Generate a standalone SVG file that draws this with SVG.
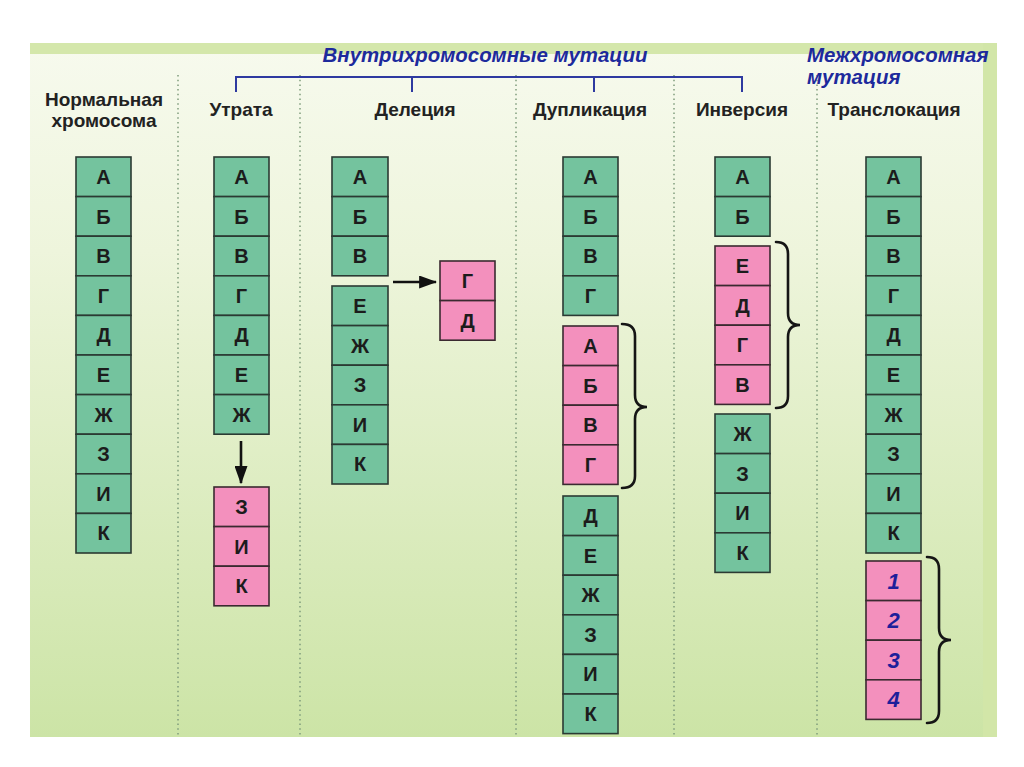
<svg xmlns="http://www.w3.org/2000/svg" width="1024" height="767" viewBox="0 0 1024 767">
<defs>
<linearGradient id="bg" x1="0" y1="0" x2="0" y2="1">
<stop offset="0" stop-color="#f7faee"/>
<stop offset="0.3" stop-color="#eef5dc"/>
<stop offset="1" stop-color="#cce4a6"/>
</linearGradient>
<marker id="ah" viewBox="0 0 14 10" refX="13" refY="5" markerWidth="7" markerHeight="5" orient="auto" markerUnits="strokeWidth">
<path d="M0,0 L14,5 L0,10 z" fill="#111"/>
</marker>
<style>
.g{fill:#74c39e;stroke:#2b3a33;stroke-width:1.6}
.p{fill:#f390bd;stroke:#3a2a30;stroke-width:1.6}
.t{font-family:"Liberation Sans",Arial,sans-serif;font-weight:bold;font-size:20px;fill:#1c1c1c;text-anchor:middle}
.n{font-family:"Liberation Sans",Arial,sans-serif;font-weight:bold;font-style:italic;font-size:22px;fill:#1d1f9a;text-anchor:middle}
.h{font-family:"Liberation Sans",Arial,sans-serif;font-weight:bold;font-size:19px;fill:#222;text-anchor:middle}
.b{font-family:"Liberation Sans",Arial,sans-serif;font-weight:bold;font-style:italic;font-size:20.4px;fill:#1d2a9c}
.dot{stroke:#7f9c7c;stroke-width:1.5;stroke-dasharray:1.5 3.2;fill:none}
.br{fill:none;stroke:#151515;stroke-width:2.6;stroke-linecap:round}
.con{fill:none;stroke:#111;stroke-width:2.6}
</style>
</defs>
<rect x="0" y="0" width="1024" height="767" fill="#ffffff"/>
<rect x="30" y="43" width="967" height="694" fill="url(#bg)"/>
<rect x="30" y="43" width="967" height="11" fill="#d4e7ab"/>
<rect x="983" y="43" width="14" height="694" fill="#d2e6a8"/>

<g id="dividers">
<line class="dot" x1="178" y1="75" x2="178" y2="737"/>
<line class="dot" x1="300" y1="75" x2="300" y2="737"/>
<line class="dot" x1="516" y1="75" x2="516" y2="737"/>
<line class="dot" x1="674" y1="75" x2="674" y2="737"/>
<line class="dot" x1="817" y1="75" x2="817" y2="737"/>
</g>

<g id="titles">
<text class="b" x="485" y="62" text-anchor="middle">Внутрихромосомные мутации</text>
<text class="b" x="807" y="62">Межхромосомная</text>
<text class="b" x="807" y="84">мутация</text>
<path d="M236,92 V77 H742 V92 M412,77 V92 M594,77 V92" fill="none" stroke="#2e3aa0" stroke-width="2"/>
</g>

<g id="headings">
<text class="h" x="104" y="106">Нормальная</text>
<text class="h" x="104" y="127">хромосома</text>
<text class="h" x="241" y="116">Утрата</text>
<text class="h" x="415" y="116">Делеция</text>
<text class="h" x="590" y="116">Дупликация</text>
<text class="h" x="742" y="116">Инверсия</text>
<text class="h" x="894" y="116">Транслокация</text>
</g>

<g id="normal">
<rect class="g" x="76" y="157" width="55" height="39.6"/><text class="t" x="103.5" y="184">А</text>
<rect class="g" x="76" y="196.6" width="55" height="39.6"/><text class="t" x="103.5" y="223.6">Б</text>
<rect class="g" x="76" y="236.2" width="55" height="39.6"/><text class="t" x="103.5" y="263.2">В</text>
<rect class="g" x="76" y="275.8" width="55" height="39.6"/><text class="t" x="103.5" y="302.8">Г</text>
<rect class="g" x="76" y="315.4" width="55" height="39.6"/><text class="t" x="103.5" y="342.4">Д</text>
<rect class="g" x="76" y="355" width="55" height="39.6"/><text class="t" x="103.5" y="382">Е</text>
<rect class="g" x="76" y="394.6" width="55" height="39.6"/><text class="t" x="103.5" y="421.6">Ж</text>
<rect class="g" x="76" y="434.2" width="55" height="39.6"/><text class="t" x="103.5" y="461.2">З</text>
<rect class="g" x="76" y="473.8" width="55" height="39.6"/><text class="t" x="103.5" y="500.8">И</text>
<rect class="g" x="76" y="513.4" width="55" height="39.6"/><text class="t" x="103.5" y="540.4">К</text>
</g>

<g id="loss">
<rect class="g" x="214" y="157" width="55" height="39.6"/><text class="t" x="241.5" y="184">А</text>
<rect class="g" x="214" y="196.6" width="55" height="39.6"/><text class="t" x="241.5" y="223.6">Б</text>
<rect class="g" x="214" y="236.2" width="55" height="39.6"/><text class="t" x="241.5" y="263.2">В</text>
<rect class="g" x="214" y="275.8" width="55" height="39.6"/><text class="t" x="241.5" y="302.8">Г</text>
<rect class="g" x="214" y="315.4" width="55" height="39.6"/><text class="t" x="241.5" y="342.4">Д</text>
<rect class="g" x="214" y="355" width="55" height="39.6"/><text class="t" x="241.5" y="382">Е</text>
<rect class="g" x="214" y="394.6" width="55" height="39.6"/><text class="t" x="241.5" y="421.6">Ж</text>
</g>
<g id="loss-fragment">
<rect class="p" x="214" y="487" width="55" height="39.6"/><text class="t" x="241.5" y="514">З</text>
<rect class="p" x="214" y="526.6" width="55" height="39.6"/><text class="t" x="241.5" y="553.6">И</text>
<rect class="p" x="214" y="566.2" width="55" height="39.6"/><text class="t" x="241.5" y="593.2">К</text>
</g>

<g id="deletion">
<rect class="g" x="332" y="157" width="56" height="39.6"/><text class="t" x="360" y="184">А</text>
<rect class="g" x="332" y="196.6" width="56" height="39.6"/><text class="t" x="360" y="223.6">Б</text>
<rect class="g" x="332" y="236.2" width="56" height="39.6"/><text class="t" x="360" y="263.2">В</text>
<rect class="g" x="332" y="286" width="56" height="39.6"/><text class="t" x="360" y="313">Е</text>
<rect class="g" x="332" y="325.6" width="56" height="39.6"/><text class="t" x="360" y="352.6">Ж</text>
<rect class="g" x="332" y="365.2" width="56" height="39.6"/><text class="t" x="360" y="392.2">З</text>
<rect class="g" x="332" y="404.8" width="56" height="39.6"/><text class="t" x="360" y="431.8">И</text>
<rect class="g" x="332" y="444.4" width="56" height="39.6"/><text class="t" x="360" y="471.4">К</text>
</g>
<g id="deletion-fragment">
<rect class="p" x="440" y="261" width="55" height="39.6"/><text class="t" x="467.5" y="288">Г</text>
<rect class="p" x="440" y="300.6" width="55" height="39.6"/><text class="t" x="467.5" y="327.6">Д</text>
</g>

<g id="duplication">
<rect class="g" x="563" y="157" width="55" height="39.6"/><text class="t" x="590.5" y="184">А</text>
<rect class="g" x="563" y="196.6" width="55" height="39.6"/><text class="t" x="590.5" y="223.6">Б</text>
<rect class="g" x="563" y="236.2" width="55" height="39.6"/><text class="t" x="590.5" y="263.2">В</text>
<rect class="g" x="563" y="275.8" width="55" height="39.6"/><text class="t" x="590.5" y="302.8">Г</text>
<rect class="p" x="563" y="326" width="55" height="39.6"/><text class="t" x="590.5" y="353">А</text>
<rect class="p" x="563" y="365.6" width="55" height="39.6"/><text class="t" x="590.5" y="392.6">Б</text>
<rect class="p" x="563" y="405.2" width="55" height="39.6"/><text class="t" x="590.5" y="432.2">В</text>
<rect class="p" x="563" y="444.8" width="55" height="39.6"/><text class="t" x="590.5" y="471.8">Г</text>
<rect class="g" x="563" y="496" width="55" height="39.6"/><text class="t" x="590.5" y="523">Д</text>
<rect class="g" x="563" y="535.6" width="55" height="39.6"/><text class="t" x="590.5" y="562.6">Е</text>
<rect class="g" x="563" y="575.2" width="55" height="39.6"/><text class="t" x="590.5" y="602.2">Ж</text>
<rect class="g" x="563" y="614.8" width="55" height="39.6"/><text class="t" x="590.5" y="641.8">З</text>
<rect class="g" x="563" y="654.4" width="55" height="39.6"/><text class="t" x="590.5" y="681.4">И</text>
<rect class="g" x="563" y="694" width="55" height="39.6"/><text class="t" x="590.5" y="721">К</text>
</g>

<g id="inversion">
<rect class="g" x="715" y="157" width="55" height="39.6"/><text class="t" x="742.5" y="184">А</text>
<rect class="g" x="715" y="196.6" width="55" height="39.6"/><text class="t" x="742.5" y="223.6">Б</text>
<rect class="p" x="715" y="246" width="55" height="39.6"/><text class="t" x="742.5" y="273">Е</text>
<rect class="p" x="715" y="285.6" width="55" height="39.6"/><text class="t" x="742.5" y="312.6">Д</text>
<rect class="p" x="715" y="325.2" width="55" height="39.6"/><text class="t" x="742.5" y="352.2">Г</text>
<rect class="p" x="715" y="364.8" width="55" height="39.6"/><text class="t" x="742.5" y="391.8">В</text>
<rect class="g" x="715" y="414" width="55" height="39.6"/><text class="t" x="742.5" y="441">Ж</text>
<rect class="g" x="715" y="453.6" width="55" height="39.6"/><text class="t" x="742.5" y="480.6">З</text>
<rect class="g" x="715" y="493.2" width="55" height="39.6"/><text class="t" x="742.5" y="520.2">И</text>
<rect class="g" x="715" y="532.8" width="55" height="39.6"/><text class="t" x="742.5" y="559.8">К</text>
</g>

<g id="translocation">
<rect class="g" x="866" y="157" width="55" height="39.6"/><text class="t" x="893.5" y="184">А</text>
<rect class="g" x="866" y="196.6" width="55" height="39.6"/><text class="t" x="893.5" y="223.6">Б</text>
<rect class="g" x="866" y="236.2" width="55" height="39.6"/><text class="t" x="893.5" y="263.2">В</text>
<rect class="g" x="866" y="275.8" width="55" height="39.6"/><text class="t" x="893.5" y="302.8">Г</text>
<rect class="g" x="866" y="315.4" width="55" height="39.6"/><text class="t" x="893.5" y="342.4">Д</text>
<rect class="g" x="866" y="355" width="55" height="39.6"/><text class="t" x="893.5" y="382">Е</text>
<rect class="g" x="866" y="394.6" width="55" height="39.6"/><text class="t" x="893.5" y="421.6">Ж</text>
<rect class="g" x="866" y="434.2" width="55" height="39.6"/><text class="t" x="893.5" y="461.2">З</text>
<rect class="g" x="866" y="473.8" width="55" height="39.6"/><text class="t" x="893.5" y="500.8">И</text>
<rect class="g" x="866" y="513.4" width="55" height="39.6"/><text class="t" x="893.5" y="540.4">К</text>
</g>
<g id="translocation-fragment">
<rect class="p" x="866" y="561" width="55" height="39.6"/><text class="n" x="893.5" y="588.5">1</text>
<rect class="p" x="866" y="600.6" width="55" height="39.6"/><text class="n" x="893.5" y="628.1">2</text>
<rect class="p" x="866" y="640.2" width="55" height="39.6"/><text class="n" x="893.5" y="667.7">3</text>
<rect class="p" x="866" y="679.8" width="55" height="39.6"/><text class="n" x="893.5" y="707.3">4</text>
</g>

<g id="connectors">
<line class="con" x1="241" y1="441" x2="241" y2="483" marker-end="url(#ah)"/>
<line class="con" x1="393" y1="282" x2="436" y2="282" marker-end="url(#ah)"/>
<path class="br" d="M622,324 Q635,324 635,336 L635,395 Q635,407 647,407 Q635,407 635,419 L635,476 Q635,488 622,488"/>
<path class="br" d="M776,242 Q788,242 788,254 L788,313 Q788,325 800,325 Q788,325 788,337 L788,396 Q788,408 776,408"/>
<path class="br" d="M927,557 Q939,557 939,569 L939,628 Q939,640 951,640 Q939,640 939,652 L939,711 Q939,723 927,723"/>
</g>
</svg>
